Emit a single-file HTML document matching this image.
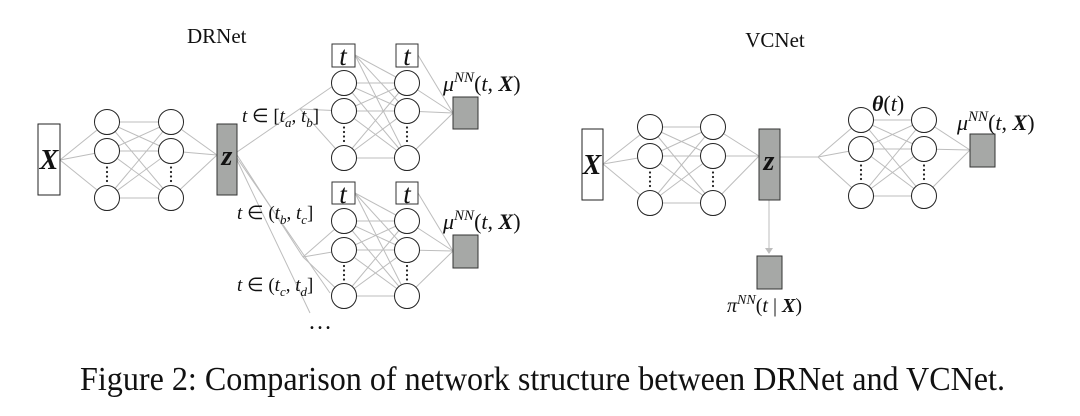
<!DOCTYPE html>
<html><head><meta charset="utf-8">
<style>
html,body{margin:0;padding:0;background:#fff;width:1080px;height:416px;overflow:hidden}
svg{display:block}
text{font-family:"Liberation Serif",serif;fill:#111}
.m{font-style:italic}
</style></head>
<body>
<svg id="s" width="1080" height="416" viewBox="0 0 1080 416" xmlns="http://www.w3.org/2000/svg">
<g id="lines" stroke="#bdbdbd" stroke-width="1" fill="none"></g>
<g id="shapes"></g>
<!-- DRNet -->
<text x="187" y="43" font-size="21">DRNet</text>
<rect x="38" y="124" width="22" height="71" fill="#fff" stroke="#222" stroke-width="1"/>
<text x="49" y="169" font-size="28" font-weight="bold" class="m" text-anchor="middle">X</text>
<rect x="217" y="124" width="20" height="71" fill="#a6a8a6" stroke="#333" stroke-width="1"/>
<text x="227" y="165" font-size="28" font-weight="bold" class="m" text-anchor="middle">z</text>
<rect x="332" y="44" width="23" height="23" fill="#fff" stroke="#333"/>
<text x="343" y="65" font-size="27" class="m" text-anchor="middle">t</text>
<rect x="396" y="44" width="22" height="23" fill="#fff" stroke="#333"/>
<text x="407" y="65" font-size="27" class="m" text-anchor="middle">t</text>
<rect x="332" y="182" width="23" height="22" fill="#fff" stroke="#333"/>
<text x="343" y="203" font-size="27" class="m" text-anchor="middle">t</text>
<rect x="396" y="182" width="22" height="22" fill="#fff" stroke="#333"/>
<text x="407" y="203" font-size="27" class="m" text-anchor="middle">t</text>
<rect x="453" y="97" width="25" height="32" fill="#a6a8a6" stroke="#333"/>
<rect x="453" y="235" width="25" height="33" fill="#a6a8a6" stroke="#333"/>
<text x="443" y="91" font-size="22"><tspan class="m">μ</tspan><tspan class="m" font-size="15" dy="-9">NN</tspan><tspan dy="9">(</tspan><tspan class="m">t</tspan>, <tspan class="m" font-weight="bold">X</tspan>)</text>
<text x="443" y="229" font-size="22"><tspan class="m">μ</tspan><tspan class="m" font-size="15" dy="-9">NN</tspan><tspan dy="9">(</tspan><tspan class="m">t</tspan>, <tspan class="m" font-weight="bold">X</tspan>)</text>
<text x="242" y="122" font-size="19"><tspan class="m">t</tspan> ∈ [<tspan class="m">t</tspan><tspan class="m" font-size="13" dy="5">a</tspan><tspan dy="-5">, </tspan><tspan class="m">t</tspan><tspan class="m" font-size="13" dy="5">b</tspan><tspan dy="-5">]</tspan></text>
<text x="237" y="219" font-size="19"><tspan class="m">t</tspan> ∈ (<tspan class="m">t</tspan><tspan class="m" font-size="13" dy="5">b</tspan><tspan dy="-5">, </tspan><tspan class="m">t</tspan><tspan class="m" font-size="13" dy="5">c</tspan><tspan dy="-5">]</tspan></text>
<text x="237" y="291" font-size="19"><tspan class="m">t</tspan> ∈ (<tspan class="m">t</tspan><tspan class="m" font-size="13" dy="5">c</tspan><tspan dy="-5">, </tspan><tspan class="m">t</tspan><tspan class="m" font-size="13" dy="5">d</tspan><tspan dy="-5">]</tspan></text>
<text x="308" y="329" font-size="24">…</text>
<!-- VCNet -->
<text x="775" y="47" font-size="21" text-anchor="middle">VCNet</text>
<rect x="582" y="129" width="21" height="71" fill="#fff" stroke="#222"/>
<text x="592" y="174" font-size="28" font-weight="bold" class="m" text-anchor="middle">X</text>
<rect x="759" y="129" width="21" height="71" fill="#a6a8a6" stroke="#333"/>
<text x="769" y="170" font-size="28" font-weight="bold" class="m" text-anchor="middle">z</text>
<rect x="970" y="134" width="25" height="33" fill="#a6a8a6" stroke="#333"/>
<rect x="757" y="256" width="25" height="33" fill="#a6a8a6" stroke="#333"/>
<text x="872" y="111" font-size="22"><tspan class="m" font-weight="bold">θ</tspan>(<tspan class="m">t</tspan>)</text>
<text x="957" y="130" font-size="22"><tspan class="m">μ</tspan><tspan class="m" font-size="15" dy="-9">NN</tspan><tspan dy="9">(</tspan><tspan class="m">t</tspan>, <tspan class="m" font-weight="bold">X</tspan>)</text>
<text x="727" y="312" font-size="20"><tspan class="m">π</tspan><tspan class="m" font-size="14" dy="-8">NN</tspan><tspan dy="8">(</tspan><tspan class="m">t</tspan> | <tspan class="m" font-weight="bold">X</tspan>)</text>
<text x="80" y="390" font-size="34" textLength="925" lengthAdjust="spacingAndGlyphs">Figure 2: Comparison of network structure between DRNet and VCNet.</text>
</svg>
<script>
var L=document.getElementById('lines'),S=document.getElementById('shapes'),NS='http://www.w3.org/2000/svg';
function ln(a,b,c,d){var e=document.createElementNS(NS,'line');e.setAttribute('x1',a);e.setAttribute('y1',b);e.setAttribute('x2',c);e.setAttribute('y2',d);L.appendChild(e);}
function col(x,ys){ys.forEach(function(y){var c=document.createElementNS(NS,'circle');c.setAttribute('cx',x);c.setAttribute('cy',y);c.setAttribute('r',12.5);c.setAttribute('fill','#fff');c.setAttribute('stroke','#222');S.appendChild(c);});
 var dy=(ys[1]+ys[2])/2;for(var i=-7;i<=7;i+=4.5){var d=document.createElementNS(NS,'circle');d.setAttribute('cx',x);d.setAttribute('cy',dy+i);d.setAttribute('r',1.1);d.setAttribute('fill','#222');S.appendChild(d);}}
function full(x1,y1s,x2,y2s){y1s.forEach(function(a){y2s.forEach(function(b){ln(x1,a,x2,b);});});}
function fan(x,y,x2,ys){ys.forEach(function(b){ln(x,y,x2,b);});}
// DRNet
var A=[122,151,198];
fan(60,160,107,A);full(107,A,171,A);A.forEach(function(y){ln(171,y,217,155);});
col(107,A);col(171,A);
var T=[83,111,158],B=[221,250,296];
ln(237,152,333,86);fan(300,109,344,[111,158]);
ln(237,155,303,257);fan(303,257,344,B);
ln(237,158,330,293);ln(237,160,310,313);
full(344,T,407,T);full(344,B,407,B);
fan(355,55,407,T);fan(355,193,407,B);
fan(418,55,453,[113]);fan(418,193,453,[251]);
T.forEach(function(y){ln(407,y,453,113);});B.forEach(function(y){ln(407,y,453,251);});
col(344,T);col(407,T);col(344,B);col(407,B);
// VCNet
var V=[127,156,203],R=[120,149,196];
fan(603,164,650,V);full(650,V,713,V);V.forEach(function(y){ln(713,y,759,156);});
ln(780,157,818,157);fan(818,157,861,R);full(861,R,924,R);R.forEach(function(y){ln(924,y,970,150);});
col(650,V);col(713,V);col(861,R);col(924,R);
ln(769,200,769,249);
var p=document.createElementNS(NS,'polygon');p.setAttribute('points','765,248 773,248 769,254');p.setAttribute('fill','#bdbdbd');S.appendChild(p);
</script>
</body></html>
